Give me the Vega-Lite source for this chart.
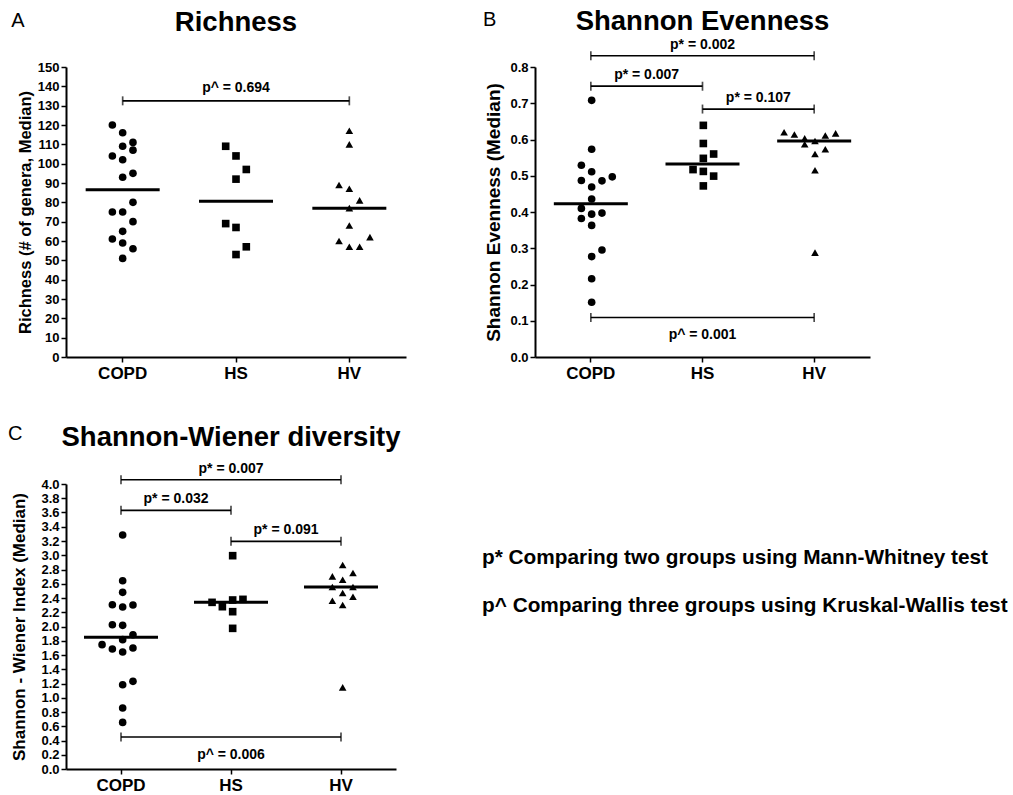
{
"$schema": "https://vega.github.io/schema/vega-lite/v6.json",
"padding": {"left": 7, "top": 8, "right": 0, "bottom": 0},
"config": {
 "font": "Liberation Sans",
 "view": {"stroke": null},
 "axis": {"domainColor": "black", "domainWidth": 2, "tickColor": "black", "tickWidth": 1.5, "tickSize": 5, "labelColor": "black", "labelFontWeight": "bold", "titleColor": "black", "titleFontWeight": "bold", "grid": false, "labelFont": "Liberation Sans", "titleFont": "Liberation Sans"},
 "axisY": {"labelFontSize": 13, "labelPadding": 2, "titlePadding": 6},
 "axisX": {"labelFontSize": 17, "labelPadding": 3, "labelAngle": 0},
 "title": {"font": "Liberation Sans", "fontSize": 27.5, "fontWeight": "bold", "color": "black", "anchor": "middle", "frame": "group"},
 "text": {"font": "Liberation Sans"}
},
"datasets": {
 "pts": [
  {"panel":"A","group":"COPD","slot":-1,"value":120},{"panel":"A","group":"COPD","slot":0,"value":116},{"panel":"A","group":"COPD","slot":1,"value":111},{"panel":"A","group":"COPD","slot":0,"value":109},{"panel":"A","group":"COPD","slot":1,"value":107},{"panel":"A","group":"COPD","slot":-1,"value":104},{"panel":"A","group":"COPD","slot":0,"value":102},{"panel":"A","group":"COPD","slot":1,"value":95},{"panel":"A","group":"COPD","slot":0,"value":93},{"panel":"A","group":"COPD","slot":1,"value":80},{"panel":"A","group":"COPD","slot":-1,"value":75},{"panel":"A","group":"COPD","slot":0,"value":75},{"panel":"A","group":"COPD","slot":1,"value":70},{"panel":"A","group":"COPD","slot":0,"value":65},{"panel":"A","group":"COPD","slot":-1,"value":61},{"panel":"A","group":"COPD","slot":0,"value":59},{"panel":"A","group":"COPD","slot":1,"value":56},{"panel":"A","group":"COPD","slot":0,"value":51},
  {"panel":"A","group":"HS","slot":-1,"value":109},{"panel":"A","group":"HS","slot":0,"value":104},{"panel":"A","group":"HS","slot":1,"value":97},{"panel":"A","group":"HS","slot":0,"value":92},{"panel":"A","group":"HS","slot":-1,"value":69},{"panel":"A","group":"HS","slot":0,"value":67},{"panel":"A","group":"HS","slot":1,"value":57},{"panel":"A","group":"HS","slot":0,"value":53},
  {"panel":"A","group":"HV","slot":0,"value":117},{"panel":"A","group":"HV","slot":0,"value":110},{"panel":"A","group":"HV","slot":-1,"value":89},{"panel":"A","group":"HV","slot":0,"value":87},{"panel":"A","group":"HV","slot":1,"value":81},{"panel":"A","group":"HV","slot":0,"value":77},{"panel":"A","group":"HV","slot":0,"value":68},{"panel":"A","group":"HV","slot":-1,"value":60},{"panel":"A","group":"HV","slot":0,"value":57},{"panel":"A","group":"HV","slot":1,"value":57},{"panel":"A","group":"HV","slot":2,"value":62},
  {"panel":"B","group":"COPD","slot":0,"value":0.708},{"panel":"B","group":"COPD","slot":0,"value":0.573},{"panel":"B","group":"COPD","slot":-1,"value":0.529},{"panel":"B","group":"COPD","slot":0,"value":0.511},{"panel":"B","group":"COPD","slot":2,"value":0.497},{"panel":"B","group":"COPD","slot":-1,"value":0.487},{"panel":"B","group":"COPD","slot":1,"value":0.486},{"panel":"B","group":"COPD","slot":0,"value":0.469},{"panel":"B","group":"COPD","slot":0,"value":0.436},{"panel":"B","group":"COPD","slot":-1,"value":0.41},{"panel":"B","group":"COPD","slot":1,"value":0.397},{"panel":"B","group":"COPD","slot":0,"value":0.394},{"panel":"B","group":"COPD","slot":-1,"value":0.382},{"panel":"B","group":"COPD","slot":0,"value":0.363},{"panel":"B","group":"COPD","slot":1,"value":0.295},{"panel":"B","group":"COPD","slot":0,"value":0.277},{"panel":"B","group":"COPD","slot":0,"value":0.216},{"panel":"B","group":"COPD","slot":0,"value":0.151},
  {"panel":"B","group":"HS","slot":0,"value":0.639},{"panel":"B","group":"HS","slot":0,"value":0.589},{"panel":"B","group":"HS","slot":1,"value":0.56},{"panel":"B","group":"HS","slot":0,"value":0.548},{"panel":"B","group":"HS","slot":-1,"value":0.517},{"panel":"B","group":"HS","slot":0,"value":0.512},{"panel":"B","group":"HS","slot":1,"value":0.499},{"panel":"B","group":"HS","slot":0,"value":0.472},
  {"panel":"B","group":"HV","slot":-3,"value":0.62},{"panel":"B","group":"HV","slot":-2,"value":0.614},{"panel":"B","group":"HV","slot":-1,"value":0.603},{"panel":"B","group":"HV","slot":-1,"value":0.587},{"panel":"B","group":"HV","slot":0,"value":0.596},{"panel":"B","group":"HV","slot":1,"value":0.611},{"panel":"B","group":"HV","slot":2,"value":0.617},{"panel":"B","group":"HV","slot":0,"value":0.56},{"panel":"B","group":"HV","slot":1,"value":0.573},{"panel":"B","group":"HV","slot":0,"value":0.515},{"panel":"B","group":"HV","slot":0,"value":0.288},
  {"panel":"C","group":"COPD","slot":0,"value":3.284},{"panel":"C","group":"COPD","slot":0,"value":2.643},{"panel":"C","group":"COPD","slot":0,"value":2.479},{"panel":"C","group":"COPD","slot":-1,"value":2.306},{"panel":"C","group":"COPD","slot":0,"value":2.274},{"panel":"C","group":"COPD","slot":1,"value":2.302},{"panel":"C","group":"COPD","slot":-1,"value":2.025},{"panel":"C","group":"COPD","slot":0,"value":2.016},{"panel":"C","group":"COPD","slot":1,"value":1.885},{"panel":"C","group":"COPD","slot":0,"value":1.815},{"panel":"C","group":"COPD","slot":-2,"value":1.745},{"panel":"C","group":"COPD","slot":-1,"value":1.684},{"panel":"C","group":"COPD","slot":0,"value":1.642},{"panel":"C","group":"COPD","slot":1,"value":1.698},{"panel":"C","group":"COPD","slot":0,"value":1.183},{"panel":"C","group":"COPD","slot":1,"value":1.23},{"panel":"C","group":"COPD","slot":0,"value":0.856},{"panel":"C","group":"COPD","slot":0,"value":0.654},
  {"panel":"C","group":"HS","slot":0,"value":2.994},{"panel":"C","group":"HS","slot":-2,"value":2.339},{"panel":"C","group":"HS","slot":-1,"value":2.278},{"panel":"C","group":"HS","slot":0,"value":2.372},{"panel":"C","group":"HS","slot":1,"value":2.381},{"panel":"C","group":"HS","slot":0,"value":2.208},{"panel":"C","group":"HS","slot":0,"value":1.974},
  {"panel":"C","group":"HV","slot":0,"value":2.863},{"panel":"C","group":"HV","slot":-1,"value":2.704},{"panel":"C","group":"HV","slot":1,"value":2.751},{"panel":"C","group":"HV","slot":0,"value":2.657},{"panel":"C","group":"HV","slot":-1,"value":2.554},{"panel":"C","group":"HV","slot":1,"value":2.554},{"panel":"C","group":"HV","slot":0,"value":2.47},{"panel":"C","group":"HV","slot":-1,"value":2.362},{"panel":"C","group":"HV","slot":1,"value":2.418},{"panel":"C","group":"HV","slot":0,"value":2.302},{"panel":"C","group":"HV","slot":0,"value":1.145}
 ],
 "brk": [
  {"panel":"A","from":"COPD","to":"HV","value":132.5,"label":"p^ = 0.694","side":"above"},
  {"panel":"B","from":"COPD","to":"HV","value":0.831,"label":"p* = 0.002","side":"above"},
  {"panel":"B","from":"COPD","to":"HS","value":0.747,"label":"p* = 0.007","side":"above"},
  {"panel":"B","from":"HS","to":"HV","value":0.684,"label":"p* = 0.107","side":"above"},
  {"panel":"B","from":"COPD","to":"HV","value":0.109,"label":"p^ = 0.001","side":"below"},
  {"panel":"C","from":"COPD","to":"HV","value":4.06,"label":"p* = 0.007","side":"above"},
  {"panel":"C","from":"COPD","to":"HS","value":3.63,"label":"p* = 0.032","side":"above"},
  {"panel":"C","from":"HS","to":"HV","value":3.195,"label":"p* = 0.091","side":"above"},
  {"panel":"C","from":"COPD","to":"HV","value":0.449,"label":"p^ = 0.006","side":"below"}
 ],
 "notes": [
  {"line": 1, "text": "p* Comparing two groups using Mann-Whitney test"},
  {"line": 2, "text": "p^ Comparing three groups using Kruskal-Wallis test"}
 ]
},
"columns": 2,
"align": "none",
"spacing": {"row": 43, "column": 76},
"concat": [
  {"title": {"text": "A", "anchor": "start", "frame": "bounds", "fontSize": 20, "fontWeight": "normal", "offset": -22, "dx": -6},
   "vconcat": [{
    "width": 340, "height": 290,
    "title": {"text": "Richness", "offset": 25},
    "encoding": {
     "x": {"field": "group", "type": "nominal", "title": null, "scale": {"domain": ["COPD","HS","HV"], "paddingInner": 0, "paddingOuter": 0}},
     "y": {"field": "value", "type": "quantitative", "title": "Richness (# of genera, Median)", "scale": {"domain": [0,150], "nice": false}, "axis": {"values": [0,10,20,30,40,50,60,70,80,90,100,110,120,130,140,150], "titleFontSize": 16.5, "titlePadding": 4}}
    },
    "layer": [
     {"data": {"name": "pts"}, "transform": [{"filter": "datum.panel=='A'"}], "mark": {"type": "point", "filled": true, "color": "black", "opacity": 1, "size": 58},
      "encoding": {"xOffset": {"field": "slot", "type": "quantitative", "scale": {"domain": [-5.5,5.5]}}, "shape": {"field": "group", "type": "nominal", "scale": {"domain": ["COPD","HS","HV"], "range": ["circle","square","triangle-up"]}, "legend": null}}},
     {"data": {"name": "pts"}, "transform": [{"filter": "datum.panel=='A'"}], "mark": {"type": "tick", "color": "black", "size": 74, "thickness": 3},
      "encoding": {"y": {"aggregate": "median", "field": "value", "type": "quantitative", "title": "Richness (# of genera, Median)"}}},
     {"data": {"name": "brk"}, "transform": [{"filter": "datum.panel=='A'"}, {"fold": ["from","to"], "as": ["end","group"]}], "mark": {"type": "line", "color": "black", "strokeWidth": 1.7}, "encoding": {"detail": {"field": "label"}}},
     {"data": {"name": "brk"}, "transform": [{"filter": "datum.panel=='A'"}, {"fold": ["from","to"], "as": ["end","group"]}], "mark": {"type": "tick", "orient": "vertical", "color": "black", "size": 9, "thickness": 1.7}, "encoding": {}},
     {"data": {"name": "brk"}, "transform": [{"filter": "datum.panel=='A' && datum.from=='COPD' && datum.to=='HV' && datum.side=='above'"}], "mark": {"type": "text", "color": "black", "fontSize": 14, "fontWeight": "bold", "baseline": "alphabetic", "dy": -9},
      "encoding": {"x": {"datum": "HS", "type": "nominal", "title": null}, "text": {"field": "label"}}}
    ]
   }]
  },
  {"title": {"text": "B", "anchor": "start", "frame": "bounds", "fontSize": 20, "fontWeight": "normal", "offset": -22, "dx": -2},
   "vconcat": [{
    "width": 335, "height": 290,
    "title": {"text": "Shannon Evenness", "offset": 2},
    "encoding": {
     "x": {"field": "group", "type": "nominal", "title": null, "scale": {"domain": ["COPD","HS","HV"], "paddingInner": 0, "paddingOuter": 0}},
     "y": {"field": "value", "type": "quantitative", "title": "Shannon Evenness (Median)", "scale": {"domain": [0,0.8], "nice": false}, "axis": {"values": [0,0.1,0.2,0.3,0.4,0.5,0.6,0.7,0.8], "format": ".1f", "titleFontSize": 19}}
    },
    "layer": [
     {"data": {"name": "pts"}, "transform": [{"filter": "datum.panel=='B'"}], "mark": {"type": "point", "filled": true, "color": "black", "opacity": 1, "size": 58},
      "encoding": {"xOffset": {"field": "slot", "type": "quantitative", "scale": {"domain": [-5.5,5.5]}}, "shape": {"field": "group", "type": "nominal", "scale": {"domain": ["COPD","HS","HV"], "range": ["circle","square","triangle-up"]}, "legend": null}}},
     {"data": {"name": "pts"}, "transform": [{"filter": "datum.panel=='B'"}], "mark": {"type": "tick", "color": "black", "size": 74, "thickness": 3},
      "encoding": {"y": {"aggregate": "median", "field": "value", "type": "quantitative", "title": "Shannon Evenness (Median)"}}},
     {"data": {"name": "brk"}, "transform": [{"filter": "datum.panel=='B'"}, {"fold": ["from","to"], "as": ["end","group"]}], "mark": {"type": "line", "color": "black", "strokeWidth": 1.7}, "encoding": {"detail": {"field": "label"}}},
     {"data": {"name": "brk"}, "transform": [{"filter": "datum.panel=='B'"}, {"fold": ["from","to"], "as": ["end","group"]}], "mark": {"type": "tick", "orient": "vertical", "color": "black", "size": 9, "thickness": 1.7}, "encoding": {}},
     {"data": {"name": "brk"}, "transform": [{"filter": "datum.panel=='B' && datum.from=='COPD' && datum.to=='HV' && datum.side=='above'"}], "mark": {"type": "text", "color": "black", "fontSize": 14, "fontWeight": "bold", "baseline": "alphabetic", "dy": -7},
      "encoding": {"x": {"datum": "HS", "type": "nominal", "title": null}, "text": {"field": "label"}}},
     {"data": {"name": "brk"}, "transform": [{"filter": "datum.panel=='B' && !(datum.from=='COPD' && datum.to=='HV')"}], "mark": {"type": "text", "color": "black", "fontSize": 14, "fontWeight": "bold", "baseline": "alphabetic", "dy": -7},
      "encoding": {"x": {"field": "from", "type": "nominal", "title": null, "bandPosition": 1}, "text": {"field": "label"}}},
     {"data": {"name": "brk"}, "transform": [{"filter": "datum.panel=='B' && datum.side=='below'"}], "mark": {"type": "text", "color": "black", "fontSize": 14, "fontWeight": "bold", "baseline": "top", "dy": 11},
      "encoding": {"x": {"datum": "HS", "type": "nominal", "title": null}, "text": {"field": "label"}}}
    ]
   }]
  },
  {"title": {"text": "C", "anchor": "start", "frame": "bounds", "fontSize": 20, "fontWeight": "normal", "offset": -20, "dx": -3},
   "vconcat": [{
    "width": 330, "height": 285,
    "title": {"text": "Shannon-Wiener diversity", "offset": 10},
    "encoding": {
     "x": {"field": "group", "type": "nominal", "title": null, "scale": {"domain": ["COPD","HS","HV"], "paddingInner": 0, "paddingOuter": 0}},
     "y": {"field": "value", "type": "quantitative", "title": "Shannon - Wiener Index (Median)", "scale": {"domain": [0,4], "nice": false}, "axis": {"values": [0,0.2,0.4,0.6,0.8,1,1.2,1.4,1.6,1.8,2,2.2,2.4,2.6,2.8,3,3.2,3.4,3.6,3.8,4], "format": ".1f", "titleFontSize": 17, "titlePadding": 12}}
    },
    "layer": [
     {"data": {"name": "pts"}, "transform": [{"filter": "datum.panel=='C'"}], "mark": {"type": "point", "filled": true, "color": "black", "opacity": 1, "size": 58},
      "encoding": {"xOffset": {"field": "slot", "type": "quantitative", "scale": {"domain": [-5.5,5.5]}}, "shape": {"field": "group", "type": "nominal", "scale": {"domain": ["COPD","HS","HV"], "range": ["circle","square","triangle-up"]}, "legend": null}}},
     {"data": {"name": "pts"}, "transform": [{"filter": "datum.panel=='C'"}], "mark": {"type": "tick", "color": "black", "size": 74, "thickness": 3},
      "encoding": {"y": {"aggregate": "median", "field": "value", "type": "quantitative", "title": "Shannon - Wiener Index (Median)"}}},
     {"data": {"name": "brk"}, "transform": [{"filter": "datum.panel=='C'"}, {"fold": ["from","to"], "as": ["end","group"]}], "mark": {"type": "line", "color": "black", "strokeWidth": 1.7}, "encoding": {"detail": {"field": "label"}}},
     {"data": {"name": "brk"}, "transform": [{"filter": "datum.panel=='C'"}, {"fold": ["from","to"], "as": ["end","group"]}], "mark": {"type": "tick", "orient": "vertical", "color": "black", "size": 9, "thickness": 1.7}, "encoding": {}},
     {"data": {"name": "brk"}, "transform": [{"filter": "datum.panel=='C' && datum.from=='COPD' && datum.to=='HV' && datum.side=='above'"}], "mark": {"type": "text", "color": "black", "fontSize": 14, "fontWeight": "bold", "baseline": "alphabetic", "dy": -7},
      "encoding": {"x": {"datum": "HS", "type": "nominal", "title": null}, "text": {"field": "label"}}},
     {"data": {"name": "brk"}, "transform": [{"filter": "datum.panel=='C' && !(datum.from=='COPD' && datum.to=='HV')"}], "mark": {"type": "text", "color": "black", "fontSize": 14, "fontWeight": "bold", "baseline": "alphabetic", "dy": -7},
      "encoding": {"x": {"field": "from", "type": "nominal", "title": null, "bandPosition": 1}, "text": {"field": "label"}}},
     {"data": {"name": "brk"}, "transform": [{"filter": "datum.panel=='C' && datum.side=='below'"}], "mark": {"type": "text", "color": "black", "fontSize": 14, "fontWeight": "bold", "baseline": "top", "dy": 11},
      "encoding": {"x": {"datum": "HS", "type": "nominal", "title": null}, "text": {"field": "label"}}}
    ]
   }]
  },
  {"width": 500, "height": 192,
   "data": {"name": "notes"},
   "mark": {"type": "text", "align": "left", "baseline": "middle", "fontSize": 20.8, "fontWeight": "bold", "color": "black"},
   "encoding": {
    "x": {"value": 0},
    "y": {"field": "line", "type": "quantitative", "scale": {"domain": [-1.79, 2.21], "reverse": true}, "axis": null},
    "text": {"field": "text"}
   }
  }
]
}
